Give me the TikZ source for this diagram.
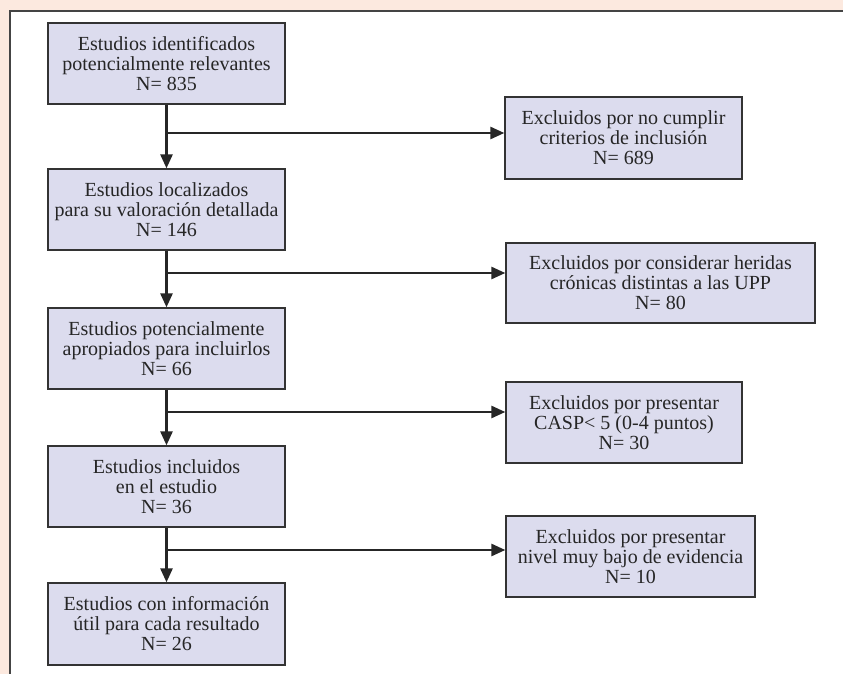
\documentclass[tikz,border=0pt]{standalone}
\usepackage{fontspec}
\setmainfont{Liberation Serif}
\usetikzlibrary{arrows.meta}
\definecolor{peach}{HTML}{FCE9DF}
\definecolor{boxfill}{HTML}{DCDCEE}
\definecolor{boxline}{HTML}{333333}
\definecolor{panelline}{HTML}{444444}
\tikzset{
  flowbox/.style={draw=boxline, line width=1.3pt, fill=boxfill, align=center,
    inner sep=0pt, font=\fontsize{20}{20}\selectfont, text=black!85},
  flowarrow/.style={line width=2.6pt, draw=black!85,
    -{Triangle[length=14pt,width=12pt]}},
  flowline/.style={line width=2.6pt, draw=black!85}
}
\begin{document}
\begin{tikzpicture}[x=1pt,y=-1pt]
\fill[peach] (0,0) rectangle (843,674);
\useasboundingbox (0,0) rectangle (843,674);
\fill[white] (10,11) rectangle (843,674);
\draw[panelline, line width=1.5pt] (10,674) -- (10,11) -- (843,11);

\node[flowbox, minimum width=237pt, minimum height=81pt] (b1) at (166.5,63.5)
  {Estudios identificados\\potencialmente relevantes\\N= 835};
\node[flowbox, minimum width=237pt, minimum height=81pt] (b2) at (166.5,209.5)
  {Estudios localizados\\para su valoración detallada\\N= 146};
\node[flowbox, minimum width=237pt, minimum height=81pt] (b3) at (166.5,348.5)
  {Estudios potencialmente\\apropiados para incluirlos\\N= 66};
\node[flowbox, minimum width=237pt, minimum height=81pt] (b4) at (166.5,486.5)
  {Estudios incluidos\\en el estudio\\N= 36};
\node[flowbox, minimum width=237pt, minimum height=82pt] (b5) at (166.5,624)
  {Estudios con información\\útil para cada resultado\\N= 26};

\node[flowbox, minimum width=237pt, minimum height=82pt] (e1) at (623.5,138)
  {Excluidos por no cumplir\\criterios de inclusión\\N= 689};
\node[flowbox, minimum width=309pt, minimum height=80pt] (e2) at (660.5,283)
  {Excluidos por considerar heridas\\crónicas distintas a las UPP\\N= 80};
\node[flowbox, minimum width=236pt, minimum height=81pt] (e3) at (624,422.5)
  {Excluidos por presentar\\CASP< 5 (0-4 puntos)\\N= 30};
\node[flowbox, minimum width=249pt, minimum height=81pt] (e4) at (630.5,556.5)
  {Excluidos por presentar\\nivel muy bajo de evidencia\\N= 10};

\coordinate (j1) at (b1.south |- 0,133);
\coordinate (j2) at (b2.south |- 0,273);
\coordinate (j3) at (b3.south |- 0,412);
\coordinate (j4) at (b4.south |- 0,550);

\draw[flowarrow] (b1.south) -- (b2.north);
\draw[flowarrow] (b2.south) -- (b3.north);
\draw[flowarrow] (b3.south) -- (b4.north);
\draw[flowarrow] (b4.south) -- (b5.north);

\draw[flowarrow] (j1) -- (j1 -| e1.west);
\draw[flowarrow] (j2) -- (j2 -| e2.west);
\draw[flowarrow] (j3) -- (j3 -| e3.west);
\draw[flowarrow] (j4) -- (j4 -| e4.west);
\end{tikzpicture}
\end{document}
